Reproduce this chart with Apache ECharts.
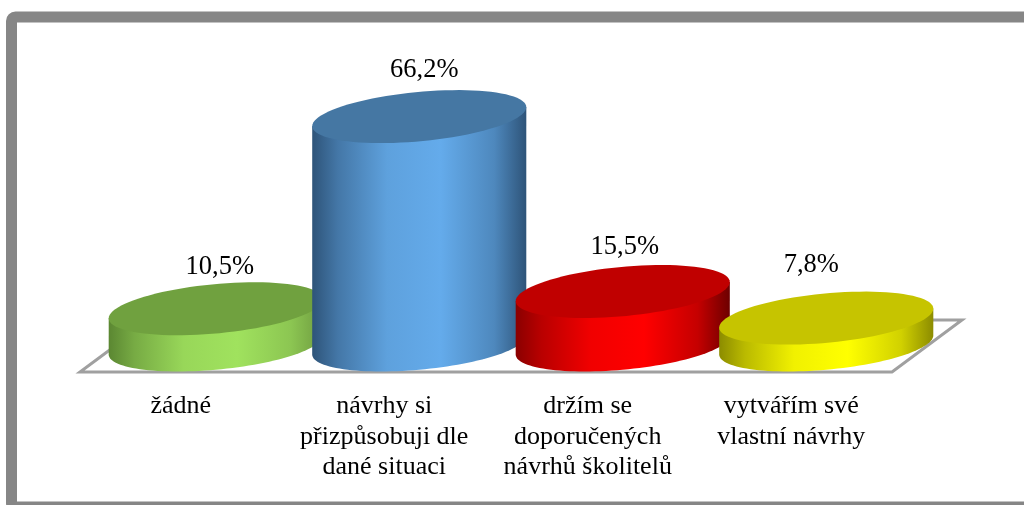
<!DOCTYPE html>
<html><head><meta charset="utf-8">
<style>html,body{margin:0;padding:0;background:#fff}#c{width:1024px;height:505px}</style>
<script src="https://cdn.jsdelivr.net/npm/echarts@6/dist/echarts.min.js"></script>
</head><body><div id="c"></div>
<script>
const categories = ['žádné','návrhy si\npřizpůsobuji dle\ndané situaci','držím se\ndoporučených\nnávrhů školitelů','vytvářím své\nvlastní návrhy'];
const shares = [10.5, 66.2, 15.5, 7.8];
const topColors = ['#70a13f','#4577a3','#c00000','#c6c400'];
const edgeColors = [['#5b8732','#6f9c40'],['#2e5479','#2e5479'],['#8a0000','#6d0000'],['#8c8c00','#8c8c00']];
const midColors = ['#a0e25e','#64abeb','#ff0000','#ffff00'];
const labelNudges = [[4,-42],[5,-47],[2,-44],[-15,-53]];
const shadeStops = [[0,1],[0.12,0.6],[0.35,0.12],[0.6,0],[0.85,0.4],[1,1]];
const SERIF = '"Liberation Serif","Times New Roman",serif';

function mixHex(c1, c2, k){
  const p = c => [1,3,5].map(j => parseInt(c.substr(j,2),16));
  const A = p(c1), B = p(c2);
  return 'rgb(' + A.map((v,j) => Math.round(v + (B[j]-v)*k)).join(',') + ')';
}
function ellipsePoints(cx, cy, a, b, s, from, to, n){
  const pts = [];
  for (let i = 0; i <= n; i++){
    const t = from + (to - from) * i / n;
    pts.push([cx + a * Math.cos(t), cy - s * Math.cos(t) + b * Math.sin(t)]);
  }
  return pts;
}
function renderCylinder(params, api){
  const i = api.value(0), v = api.value(1);
  const top = api.coord([i, v]), base = api.coord([i, 0]);
  const band = api.size([1, 0])[0];
  const a = band * 0.526, b = a * 0.231, s = a * 0.089;
  const cx = top[0];
  const body = ellipsePoints(cx, base[1], a, b, s, Math.PI, 0, 60);
  body.unshift([cx - a, top[1] + s]);
  body.push([cx + a, top[1] - s]);
  const cap = ellipsePoints(cx, top[1], a, b, s, 0, Math.PI * 2, 90);
  const nudge = labelNudges[i];
  const stops = shadeStops.map(([o,k]) => ({offset:o, color:mixHex(midColors[i], edgeColors[i][o < 0.5 ? 0 : 1], k)}));
  return {type:'group', children:[
    {type:'polygon', shape:{points:body}, style:{fill:{type:'linear',x:0,y:0,x2:1,y2:0,colorStops:stops}}},
    {type:'polygon', shape:{points:cap}, style:{fill:topColors[i]}},
    {type:'text', x:cx + nudge[0], y:top[1] + nudge[1], z2:10, style:{
      text:v.toFixed(1).replace('.',',') + '%', fill:'#000', font:'26.5px ' + SERIF, textAlign:'center', textVerticalAlign:'middle'}}
  ]};
}
function renderFloor(params, api){
  const r = params.coordSys;
  const y = r.y + r.height, dx = 70, dy = 52;
  return {type:'polygon', shape:{points:[[r.x + 1, y],[r.x + 813, y],[r.x + 813 + dx, y - dy],[r.x + 1 + dx, y - dy]]},
    style:{fill:'#fff', stroke:'#a0a0a0', lineWidth:3, lineJoin:'miter'}};
}
const chart = echarts.init(document.getElementById('c'), null, {renderer:'canvas'});
chart.setOption({
  animation:false,
  backgroundColor:'#fff',
  graphic:[{type:'rect', shape:{x:11.5,y:17,width:1040,height:490,r:4}, style:{fill:'none',stroke:'#868686',lineWidth:11}, z:100}],
  grid:[
    {left:79, width:814, top:100, height:272},
    {left:114, width:814, top:103.5, height:241.5}
  ],
  xAxis:[
    {gridIndex:0, type:'category', data:categories, axisLine:{show:false}, axisTick:{show:false},
     axisLabel:{interval:0, margin:19, lineHeight:30.5, fontSize:26, fontFamily:SERIF, color:'#000', verticalAlign:'top'}},
    {gridIndex:1, type:'category', data:categories, show:false}
  ],
  yAxis:[
    {gridIndex:0, type:'value', show:false},
    {gridIndex:1, type:'value', min:0, max:70, show:false}
  ],
  series:[
    {type:'custom', xAxisIndex:0, yAxisIndex:0, data:[[0,0]], renderItem:renderFloor, silent:true, z:1},
    {type:'custom', xAxisIndex:1, yAxisIndex:1, data:shares.map((v,i)=>[i,v]), renderItem:renderCylinder, z:2}
  ]
});
</script></body></html>
